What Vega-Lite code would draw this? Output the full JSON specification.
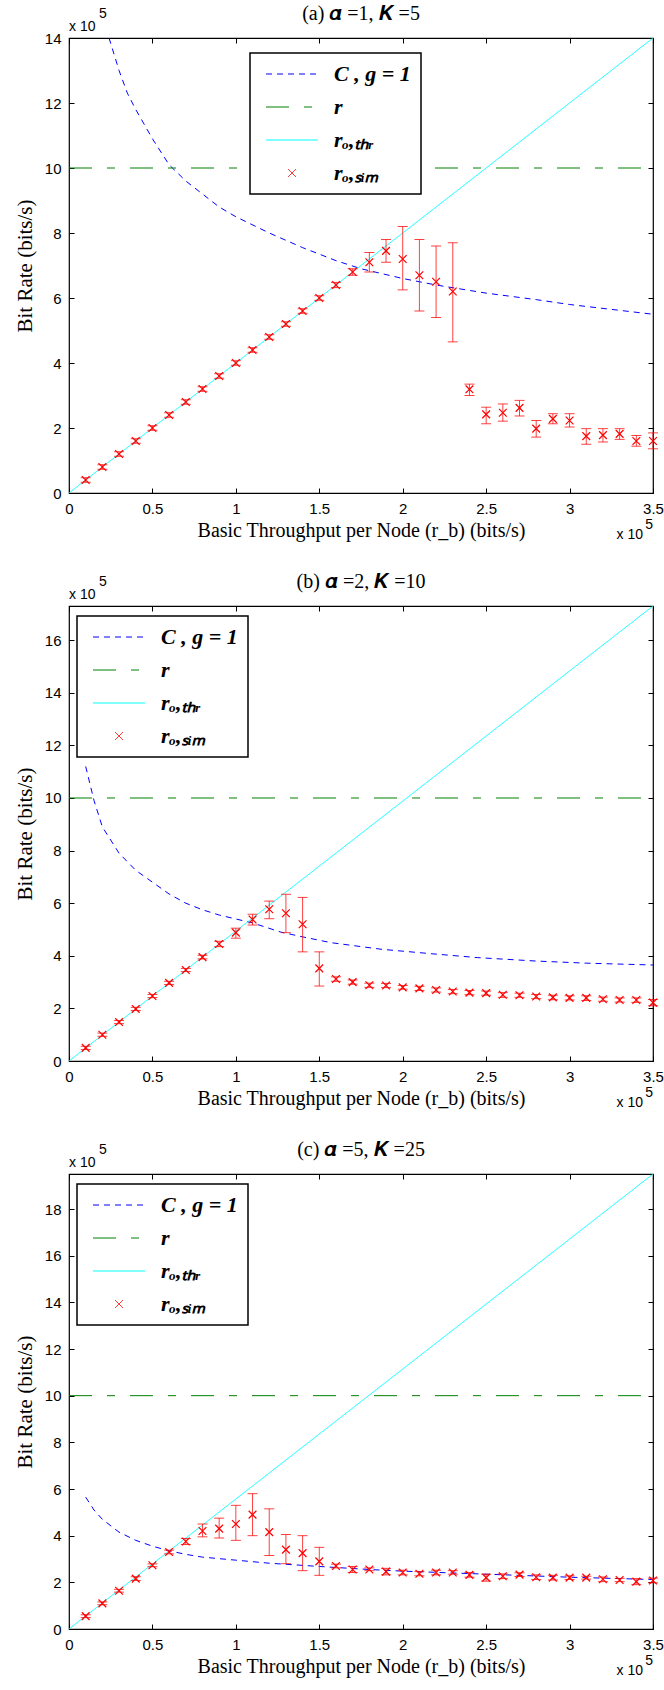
{
  "$schema": "https://vega.github.io/schema/vega-lite/v6.json",
  "background": "white",
  "padding": {"left": 13, "top": 3, "right": 0, "bottom": 0},
  "bounds": "flush",
  "spacing": 113,
  "resolve": {"scale": {"color": "independent", "strokeDash": "independent"}, "legend": {"color": "independent", "strokeDash": "independent"}},
  "config": {
    "font": "Liberation Sans",
    "view": {"stroke": "black", "strokeWidth": 1.2},
    "axis": {"grid": false, "domain": false, "tickColor": "black", "tickSize": -5, "labelFont": "Liberation Sans", "labelFontSize": 15, "labelColor": "black", "labelFlush": false, "labelOverlap": false, "labelBound": false, "titleFont": "Liberation Serif", "titleFontSize": 20, "titleFontWeight": "normal", "titleColor": "black"},
    "axisLeft": {"titleFontSize": 21},
    "title": {"font": "Liberation Serif", "fontSize": 20, "fontWeight": "normal", "color": "black", "frame": "group", "offset": -17},
    "legend": {"title": null, "orient": "none", "padding": 10, "strokeColor": "black", "fillColor": "white", "labelFont": "Liberation Serif", "labelFontSize": 22, "labelFontStyle": "italic", "labelFontWeight": "bold", "labelColor": "black", "symbolSize": 108, "symbolStrokeWidth": 1, "symbolOffset": 21, "labelOffset": 31, "rowPadding": 11}
  },
  "datasets": {
    "lines": [
      {"p": "a", "s": "C", "x": 0.24, "y": 14.0}, {"p": "a", "s": "C", "x": 0.3, "y": 13.0}, {"p": "a", "s": "C", "x": 0.35, "y": 12.3}, {"p": "a", "s": "C", "x": 0.4, "y": 11.8}, {"p": "a", "s": "C", "x": 0.5, "y": 10.9}, {"p": "a", "s": "C", "x": 0.6, "y": 10.1}, {"p": "a", "s": "C", "x": 0.7, "y": 9.6}, {"p": "a", "s": "C", "x": 0.8, "y": 9.2}, {"p": "a", "s": "C", "x": 0.9, "y": 8.8}, {"p": "a", "s": "C", "x": 1.0, "y": 8.5}, {"p": "a", "s": "C", "x": 1.2, "y": 8.0}, {"p": "a", "s": "C", "x": 1.4, "y": 7.55}, {"p": "a", "s": "C", "x": 1.6, "y": 7.15}, {"p": "a", "s": "C", "x": 1.75, "y": 6.9}, {"p": "a", "s": "C", "x": 2.0, "y": 6.6}, {"p": "a", "s": "C", "x": 2.2, "y": 6.4}, {"p": "a", "s": "C", "x": 2.5, "y": 6.15}, {"p": "a", "s": "C", "x": 2.8, "y": 5.95}, {"p": "a", "s": "C", "x": 3.0, "y": 5.8}, {"p": "a", "s": "C", "x": 3.25, "y": 5.65}, {"p": "a", "s": "C", "x": 3.5, "y": 5.5},
      {"p": "a", "s": "r", "x": 0, "y": 10}, {"p": "a", "s": "r", "x": 3.5, "y": 10},
      {"p": "a", "s": "thr", "x": 0, "y": 0}, {"p": "a", "s": "thr", "x": 1, "y": 4}, {"p": "a", "s": "thr", "x": 2, "y": 8}, {"p": "a", "s": "thr", "x": 3, "y": 12}, {"p": "a", "s": "thr", "x": 3.5, "y": 14},
      {"p": "b", "s": "C", "x": 0.1, "y": 11.2}, {"p": "b", "s": "C", "x": 0.15, "y": 9.9}, {"p": "b", "s": "C", "x": 0.2, "y": 8.9}, {"p": "b", "s": "C", "x": 0.3, "y": 7.9}, {"p": "b", "s": "C", "x": 0.4, "y": 7.25}, {"p": "b", "s": "C", "x": 0.5, "y": 6.8}, {"p": "b", "s": "C", "x": 0.6, "y": 6.35}, {"p": "b", "s": "C", "x": 0.7, "y": 6.0}, {"p": "b", "s": "C", "x": 0.8, "y": 5.75}, {"p": "b", "s": "C", "x": 0.9, "y": 5.55}, {"p": "b", "s": "C", "x": 1.0, "y": 5.4}, {"p": "b", "s": "C", "x": 1.1, "y": 5.25}, {"p": "b", "s": "C", "x": 1.27, "y": 4.9}, {"p": "b", "s": "C", "x": 1.4, "y": 4.72}, {"p": "b", "s": "C", "x": 1.57, "y": 4.5}, {"p": "b", "s": "C", "x": 1.87, "y": 4.25}, {"p": "b", "s": "C", "x": 2.17, "y": 4.08}, {"p": "b", "s": "C", "x": 2.45, "y": 3.93}, {"p": "b", "s": "C", "x": 2.8, "y": 3.8}, {"p": "b", "s": "C", "x": 3.1, "y": 3.72}, {"p": "b", "s": "C", "x": 3.5, "y": 3.65},
      {"p": "b", "s": "r", "x": 0, "y": 10}, {"p": "b", "s": "r", "x": 3.5, "y": 10},
      {"p": "b", "s": "thr", "x": 0, "y": 0}, {"p": "b", "s": "thr", "x": 1, "y": 4.94}, {"p": "b", "s": "thr", "x": 2, "y": 9.88}, {"p": "b", "s": "thr", "x": 3, "y": 14.83}, {"p": "b", "s": "thr", "x": 3.5, "y": 17.3},
      {"p": "c", "s": "C", "x": 0.1, "y": 5.65}, {"p": "c", "s": "C", "x": 0.15, "y": 5.1}, {"p": "c", "s": "C", "x": 0.2, "y": 4.7}, {"p": "c", "s": "C", "x": 0.3, "y": 4.15}, {"p": "c", "s": "C", "x": 0.4, "y": 3.8}, {"p": "c", "s": "C", "x": 0.5, "y": 3.55}, {"p": "c", "s": "C", "x": 0.6, "y": 3.35}, {"p": "c", "s": "C", "x": 0.7, "y": 3.2}, {"p": "c", "s": "C", "x": 0.8, "y": 3.08}, {"p": "c", "s": "C", "x": 1.0, "y": 2.95}, {"p": "c", "s": "C", "x": 1.2, "y": 2.82}, {"p": "c", "s": "C", "x": 1.5, "y": 2.68}, {"p": "c", "s": "C", "x": 1.8, "y": 2.55}, {"p": "c", "s": "C", "x": 2.0, "y": 2.48}, {"p": "c", "s": "C", "x": 2.5, "y": 2.35}, {"p": "c", "s": "C", "x": 3.0, "y": 2.22}, {"p": "c", "s": "C", "x": 3.5, "y": 2.12},
      {"p": "c", "s": "r", "x": 0, "y": 10}, {"p": "c", "s": "r", "x": 3.5, "y": 10},
      {"p": "c", "s": "thr", "x": 0, "y": 0}, {"p": "c", "s": "thr", "x": 1, "y": 5.57}, {"p": "c", "s": "thr", "x": 2, "y": 11.14}, {"p": "c", "s": "thr", "x": 3, "y": 16.71}, {"p": "c", "s": "thr", "x": 3.5, "y": 19.5}
    ],
    "sim": [
      {"p": "a", "x": 0.1, "y": 0.4, "lo": 0.33, "hi": 0.47}, {"p": "a", "x": 0.2, "y": 0.8, "lo": 0.73, "hi": 0.87}, {"p": "a", "x": 0.3, "y": 1.2, "lo": 1.13, "hi": 1.27}, {"p": "a", "x": 0.4, "y": 1.6, "lo": 1.53, "hi": 1.67}, {"p": "a", "x": 0.5, "y": 2.0, "lo": 1.93, "hi": 2.07}, {"p": "a", "x": 0.6, "y": 2.4, "lo": 2.33, "hi": 2.47}, {"p": "a", "x": 0.7, "y": 2.8, "lo": 2.73, "hi": 2.87}, {"p": "a", "x": 0.8, "y": 3.2, "lo": 3.13, "hi": 3.27}, {"p": "a", "x": 0.9, "y": 3.6, "lo": 3.53, "hi": 3.67}, {"p": "a", "x": 1.0, "y": 4.0, "lo": 3.93, "hi": 4.07}, {"p": "a", "x": 1.1, "y": 4.4, "lo": 4.33, "hi": 4.47}, {"p": "a", "x": 1.2, "y": 4.8, "lo": 4.73, "hi": 4.87}, {"p": "a", "x": 1.3, "y": 5.2, "lo": 5.13, "hi": 5.27}, {"p": "a", "x": 1.4, "y": 5.6, "lo": 5.53, "hi": 5.67}, {"p": "a", "x": 1.5, "y": 6.0, "lo": 5.93, "hi": 6.07}, {"p": "a", "x": 1.6, "y": 6.4, "lo": 6.32, "hi": 6.48}, {"p": "a", "x": 1.7, "y": 6.8, "lo": 6.7, "hi": 6.9}, {"p": "a", "x": 1.8, "y": 7.1, "lo": 6.8, "hi": 7.4}, {"p": "a", "x": 1.9, "y": 7.45, "lo": 7.1, "hi": 7.8}, {"p": "a", "x": 2.0, "y": 7.2, "lo": 6.25, "hi": 8.2}, {"p": "a", "x": 2.1, "y": 6.7, "lo": 5.6, "hi": 7.8}, {"p": "a", "x": 2.2, "y": 6.5, "lo": 5.4, "hi": 7.6}, {"p": "a", "x": 2.3, "y": 6.2, "lo": 4.65, "hi": 7.7}, {"p": "a", "x": 2.4, "y": 3.19, "lo": 3.0, "hi": 3.35}, {"p": "a", "x": 2.5, "y": 2.42, "lo": 2.13, "hi": 2.64}, {"p": "a", "x": 2.6, "y": 2.47, "lo": 2.21, "hi": 2.74}, {"p": "a", "x": 2.7, "y": 2.62, "lo": 2.37, "hi": 2.85}, {"p": "a", "x": 2.8, "y": 1.98, "lo": 1.72, "hi": 2.23}, {"p": "a", "x": 2.9, "y": 2.28, "lo": 2.13, "hi": 2.44}, {"p": "a", "x": 3.0, "y": 2.23, "lo": 2.03, "hi": 2.44}, {"p": "a", "x": 3.1, "y": 1.75, "lo": 1.5, "hi": 1.98}, {"p": "a", "x": 3.2, "y": 1.78, "lo": 1.57, "hi": 1.98}, {"p": "a", "x": 3.3, "y": 1.82, "lo": 1.65, "hi": 1.98}, {"p": "a", "x": 3.4, "y": 1.6, "lo": 1.44, "hi": 1.77}, {"p": "a", "x": 3.5, "y": 1.6, "lo": 1.36, "hi": 1.85},
      {"p": "b", "x": 0.1, "y": 0.5, "lo": 0.44, "hi": 0.56}, {"p": "b", "x": 0.2, "y": 1.0, "lo": 0.94, "hi": 1.06}, {"p": "b", "x": 0.3, "y": 1.48, "lo": 1.42, "hi": 1.54}, {"p": "b", "x": 0.4, "y": 1.98, "lo": 1.92, "hi": 2.04}, {"p": "b", "x": 0.5, "y": 2.47, "lo": 2.41, "hi": 2.53}, {"p": "b", "x": 0.6, "y": 2.97, "lo": 2.91, "hi": 3.03}, {"p": "b", "x": 0.7, "y": 3.46, "lo": 3.4, "hi": 3.52}, {"p": "b", "x": 0.8, "y": 3.95, "lo": 3.88, "hi": 4.02}, {"p": "b", "x": 0.9, "y": 4.45, "lo": 4.35, "hi": 4.55}, {"p": "b", "x": 1.0, "y": 4.88, "lo": 4.67, "hi": 5.05}, {"p": "b", "x": 1.1, "y": 5.38, "lo": 5.17, "hi": 5.58}, {"p": "b", "x": 1.2, "y": 5.77, "lo": 5.41, "hi": 6.08}, {"p": "b", "x": 1.3, "y": 5.62, "lo": 4.88, "hi": 6.34}, {"p": "b", "x": 1.4, "y": 5.2, "lo": 4.15, "hi": 6.22}, {"p": "b", "x": 1.5, "y": 3.52, "lo": 2.85, "hi": 4.15}, {"p": "b", "x": 1.6, "y": 3.12, "lo": 3.03, "hi": 3.2}, {"p": "b", "x": 1.7, "y": 3.0, "lo": 2.92, "hi": 3.08}, {"p": "b", "x": 1.8, "y": 2.88, "lo": 2.8, "hi": 2.96}, {"p": "b", "x": 1.9, "y": 2.87, "lo": 2.79, "hi": 2.95}, {"p": "b", "x": 2.0, "y": 2.8, "lo": 2.73, "hi": 2.87}, {"p": "b", "x": 2.1, "y": 2.76, "lo": 2.68, "hi": 2.84}, {"p": "b", "x": 2.2, "y": 2.7, "lo": 2.62, "hi": 2.78}, {"p": "b", "x": 2.3, "y": 2.64, "lo": 2.56, "hi": 2.72}, {"p": "b", "x": 2.4, "y": 2.6, "lo": 2.52, "hi": 2.68}, {"p": "b", "x": 2.5, "y": 2.58, "lo": 2.5, "hi": 2.66}, {"p": "b", "x": 2.6, "y": 2.52, "lo": 2.42, "hi": 2.6}, {"p": "b", "x": 2.7, "y": 2.5, "lo": 2.42, "hi": 2.58}, {"p": "b", "x": 2.8, "y": 2.45, "lo": 2.37, "hi": 2.53}, {"p": "b", "x": 2.9, "y": 2.42, "lo": 2.33, "hi": 2.5}, {"p": "b", "x": 3.0, "y": 2.4, "lo": 2.32, "hi": 2.48}, {"p": "b", "x": 3.1, "y": 2.4, "lo": 2.3, "hi": 2.48}, {"p": "b", "x": 3.2, "y": 2.35, "lo": 2.27, "hi": 2.43}, {"p": "b", "x": 3.3, "y": 2.32, "lo": 2.24, "hi": 2.4}, {"p": "b", "x": 3.4, "y": 2.32, "lo": 2.23, "hi": 2.4}, {"p": "b", "x": 3.5, "y": 2.22, "lo": 2.1, "hi": 2.34},
      {"p": "c", "x": 0.1, "y": 0.55, "lo": 0.49, "hi": 0.61}, {"p": "c", "x": 0.2, "y": 1.1, "lo": 1.04, "hi": 1.16}, {"p": "c", "x": 0.3, "y": 1.64, "lo": 1.58, "hi": 1.7}, {"p": "c", "x": 0.4, "y": 2.16, "lo": 2.08, "hi": 2.24}, {"p": "c", "x": 0.5, "y": 2.73, "lo": 2.67, "hi": 2.79}, {"p": "c", "x": 0.6, "y": 3.3, "lo": 3.22, "hi": 3.38}, {"p": "c", "x": 0.7, "y": 3.75, "lo": 3.62, "hi": 3.88}, {"p": "c", "x": 0.8, "y": 4.2, "lo": 3.95, "hi": 4.5}, {"p": "c", "x": 0.9, "y": 4.3, "lo": 3.9, "hi": 4.75}, {"p": "c", "x": 1.0, "y": 4.5, "lo": 3.8, "hi": 5.3}, {"p": "c", "x": 1.1, "y": 4.9, "lo": 4.0, "hi": 5.8}, {"p": "c", "x": 1.2, "y": 4.15, "lo": 3.15, "hi": 5.15}, {"p": "c", "x": 1.3, "y": 3.4, "lo": 2.8, "hi": 4.05}, {"p": "c", "x": 1.4, "y": 3.25, "lo": 2.5, "hi": 4.0}, {"p": "c", "x": 1.5, "y": 2.9, "lo": 2.3, "hi": 3.5}, {"p": "c", "x": 1.6, "y": 2.7, "lo": 2.62, "hi": 2.78}, {"p": "c", "x": 1.7, "y": 2.55, "lo": 2.42, "hi": 2.68}, {"p": "c", "x": 1.8, "y": 2.55, "lo": 2.5, "hi": 2.62}, {"p": "c", "x": 1.9, "y": 2.46, "lo": 2.32, "hi": 2.6}, {"p": "c", "x": 2.0, "y": 2.42, "lo": 2.32, "hi": 2.52}, {"p": "c", "x": 2.1, "y": 2.37, "lo": 2.28, "hi": 2.46}, {"p": "c", "x": 2.2, "y": 2.42, "lo": 2.32, "hi": 2.52}, {"p": "c", "x": 2.3, "y": 2.42, "lo": 2.35, "hi": 2.5}, {"p": "c", "x": 2.4, "y": 2.32, "lo": 2.22, "hi": 2.42}, {"p": "c", "x": 2.5, "y": 2.2, "lo": 2.05, "hi": 2.35}, {"p": "c", "x": 2.6, "y": 2.26, "lo": 2.16, "hi": 2.36}, {"p": "c", "x": 2.7, "y": 2.33, "lo": 2.25, "hi": 2.41}, {"p": "c", "x": 2.8, "y": 2.22, "lo": 2.12, "hi": 2.32}, {"p": "c", "x": 2.9, "y": 2.2, "lo": 2.1, "hi": 2.3}, {"p": "c", "x": 3.0, "y": 2.2, "lo": 2.12, "hi": 2.28}, {"p": "c", "x": 3.1, "y": 2.2, "lo": 2.14, "hi": 2.26}, {"p": "c", "x": 3.2, "y": 2.13, "lo": 2.03, "hi": 2.23}, {"p": "c", "x": 3.3, "y": 2.1, "lo": 2.03, "hi": 2.17}, {"p": "c", "x": 3.4, "y": 2.03, "lo": 1.9, "hi": 2.16}, {"p": "c", "x": 3.5, "y": 2.08, "lo": 1.98, "hi": 2.18}
    ]
  },
  "vconcat": [
    {
      "width": 584, "height": 455,
      "title": {"text": "(a) 𝜶 =1, 𝑲 =5"},
      "resolve": {"axis": {"x": "independent", "y": "independent"}},
      "layer": [
        {
          "data": {"name": "lines"},
          "transform": [{"filter": "datum.p === 'a'"}],
          "mark": {"type": "line", "strokeWidth": 1, "clip": true},
          "encoding": {
            "x": {"field": "x", "type": "quantitative", "scale": {"domain": [0, 3.5], "nice": false, "zero": false}, "axis": {"orient": "bottom", "values": [0, 0.5, 1, 1.5, 2, 2.5, 3, 3.5], "format": "~g", "labelPadding": 13, "titlePadding": 4, "title": "Basic Throughput per Node (r_b) (bits/s)"}},
            "y": {"field": "y", "type": "quantitative", "scale": {"domain": [0, 14], "nice": false}, "axis": {"orient": "left", "values": [0, 2, 4, 6, 8, 10, 12, 14], "format": "d", "labelPadding": 13, "titlePadding": 9, "title": "Bit Rate (bits/s)"}},
            "color": {"field": "s", "type": "nominal", "scale": {"domain": ["C", "r", "thr", "sim"], "range": ["#0000ff", "#008000", "#00ffff", "#ff0000"]},
              "legend": {"legendX": 181, "legendY": 15,
                "labelExpr": "datum.value === 'C' ? 'C , g = 1' : datum.value === 'thr' ? 'rₒ,ₜₕᵣ' : datum.value === 'sim' ? 'rₒ,ₛᵢₘ' : 'r'",
                "encode": {
                  "legend": {"update": {"strokeWidth": {"value": 1.5}}},
                  "symbols": {"update": {
                    "shape": {"signal": "datum.value === 'sim' ? 'M-0.75,-0.75L0.75,0.75M-0.75,0.75L0.75,-0.75' : 'M-5,0H5'"},
                    "size": {"value": 108},
                    "strokeDash": {"signal": "datum.value === 'C' ? [6, 5] : datum.value === 'r' ? [23, 15, 8, 15] : [1, 0]"},
                    "fill": {"value": "transparent"},
                    "strokeWidth": {"value": 1}
                  }}
                }}},
            "strokeDash": {"field": "s", "type": "nominal", "scale": {"domain": ["C", "r", "thr"], "range": [[6, 5], [23, 15, 8, 15], [1, 0]]}, "legend": null}
          }
        },
        {
          "data": {"name": "sim"},
          "transform": [{"filter": "datum.p === 'a'"}],
          "mark": {"type": "rule", "color": "#ff0000", "strokeWidth": 1, "opacity": 0.75},
          "encoding": {
            "x": {"field": "x", "type": "quantitative", "axis": {"orient": "top", "values": [0, 0.5, 1, 1.5, 2, 2.5, 3, 3.5], "labels": false, "title": null}},
            "y": {"field": "lo", "type": "quantitative", "axis": {"orient": "right", "values": [0, 2, 4, 6, 8, 10, 12, 14], "labels": false, "title": null}},
            "y2": {"field": "hi"}
          }
        },
        {
          "data": {"name": "sim"},
          "transform": [{"filter": "datum.p === 'a'"}],
          "mark": {"type": "tick", "orient": "horizontal", "size": 10, "thickness": 1, "color": "#ff0000", "opacity": 0.75},
          "encoding": {"x": {"field": "x", "type": "quantitative", "axis": null}, "y": {"field": "lo", "type": "quantitative", "axis": null}}
        },
        {
          "data": {"name": "sim"},
          "transform": [{"filter": "datum.p === 'a'"}],
          "mark": {"type": "tick", "orient": "horizontal", "size": 10, "thickness": 1, "color": "#ff0000", "opacity": 0.75},
          "encoding": {"x": {"field": "x", "type": "quantitative", "axis": null}, "y": {"field": "hi", "type": "quantitative", "axis": null}}
        },
        {
          "data": {"name": "sim"},
          "transform": [{"filter": "datum.p === 'a'"}],
          "mark": {"type": "point", "shape": "M-1,-1L1,1M-1,1L1,-1", "filled": false, "size": 60, "strokeWidth": 1.2, "opacity": 1},
          "encoding": {"x": {"field": "x", "type": "quantitative", "axis": null}, "y": {"field": "y", "type": "quantitative", "axis": null}, "color": {"datum": "sim", "type": "nominal"}}
        },
        {
          "data": {"values": [{"t": "x 10"}]},
          "mark": {"type": "text", "align": "left", "baseline": "alphabetic", "dy": -7, "fontSize": 14, "font": "Liberation Sans", "color": "black"},
          "encoding": {"x": {"datum": 0, "type": "quantitative", "axis": null}, "y": {"datum": 14, "type": "quantitative", "axis": null}, "text": {"field": "t"}}
        },
        {
          "data": {"values": [{"t": "5"}]},
          "mark": {"type": "text", "align": "left", "baseline": "alphabetic", "dx": 30, "dy": -20, "fontSize": 14, "font": "Liberation Sans", "color": "black"},
          "encoding": {"x": {"datum": 0, "type": "quantitative", "axis": null}, "y": {"datum": 14, "type": "quantitative", "axis": null}, "text": {"field": "t"}}
        },
        {
          "data": {"values": [{"t": "x 10"}]},
          "mark": {"type": "text", "align": "right", "baseline": "alphabetic", "dx": -10, "dy": 46, "fontSize": 14, "font": "Liberation Sans", "color": "black"},
          "encoding": {"x": {"datum": 3.5, "type": "quantitative", "axis": null}, "y": {"datum": 0, "type": "quantitative", "axis": null}, "text": {"field": "t"}}
        },
        {
          "data": {"values": [{"t": "5"}]},
          "mark": {"type": "text", "align": "right", "baseline": "alphabetic", "dx": 0, "dy": 36, "fontSize": 14, "font": "Liberation Sans", "color": "black"},
          "encoding": {"x": {"datum": 3.5, "type": "quantitative", "axis": null}, "y": {"datum": 0, "type": "quantitative", "axis": null}, "text": {"field": "t"}}
        }
      ]
    },
    {
      "width": 584, "height": 455,
      "title": {"text": "(b) 𝜶 =2, 𝑲 =10"},
      "resolve": {"axis": {"x": "independent", "y": "independent"}},
      "layer": [
        {
          "data": {"name": "lines"},
          "transform": [{"filter": "datum.p === 'b'"}],
          "mark": {"type": "line", "strokeWidth": 1, "clip": true},
          "encoding": {
            "x": {"field": "x", "type": "quantitative", "scale": {"domain": [0, 3.5], "nice": false, "zero": false}, "axis": {"orient": "bottom", "values": [0, 0.5, 1, 1.5, 2, 2.5, 3, 3.5], "format": "~g", "labelPadding": 13, "titlePadding": 4, "title": "Basic Throughput per Node (r_b) (bits/s)"}},
            "y": {"field": "y", "type": "quantitative", "scale": {"domain": [0, 17.3], "nice": false}, "axis": {"orient": "left", "values": [0, 2, 4, 6, 8, 10, 12, 14, 16], "format": "d", "labelPadding": 13, "titlePadding": 9, "title": "Bit Rate (bits/s)"}},
            "color": {"field": "s", "type": "nominal", "scale": {"domain": ["C", "r", "thr", "sim"], "range": ["#0000ff", "#008000", "#00ffff", "#ff0000"]},
              "legend": {"legendX": 8, "legendY": 10,
                "labelExpr": "datum.value === 'C' ? 'C , g = 1' : datum.value === 'thr' ? 'rₒ,ₜₕᵣ' : datum.value === 'sim' ? 'rₒ,ₛᵢₘ' : 'r'",
                "encode": {
                  "legend": {"update": {"strokeWidth": {"value": 1.5}}},
                  "symbols": {"update": {
                    "shape": {"signal": "datum.value === 'sim' ? 'M-0.75,-0.75L0.75,0.75M-0.75,0.75L0.75,-0.75' : 'M-5,0H5'"},
                    "size": {"value": 108},
                    "strokeDash": {"signal": "datum.value === 'C' ? [6, 5] : datum.value === 'r' ? [23, 15, 8, 15] : [1, 0]"},
                    "fill": {"value": "transparent"},
                    "strokeWidth": {"value": 1}
                  }}
                }}},
            "strokeDash": {"field": "s", "type": "nominal", "scale": {"domain": ["C", "r", "thr"], "range": [[6, 5], [23, 15, 8, 15], [1, 0]]}, "legend": null}
          }
        },
        {
          "data": {"name": "sim"},
          "transform": [{"filter": "datum.p === 'b'"}],
          "mark": {"type": "rule", "color": "#ff0000", "strokeWidth": 1, "opacity": 0.75},
          "encoding": {
            "x": {"field": "x", "type": "quantitative", "axis": {"orient": "top", "values": [0, 0.5, 1, 1.5, 2, 2.5, 3, 3.5], "labels": false, "title": null}},
            "y": {"field": "lo", "type": "quantitative", "axis": {"orient": "right", "values": [0, 2, 4, 6, 8, 10, 12, 14, 16], "labels": false, "title": null}},
            "y2": {"field": "hi"}
          }
        },
        {
          "data": {"name": "sim"},
          "transform": [{"filter": "datum.p === 'b'"}],
          "mark": {"type": "tick", "orient": "horizontal", "size": 10, "thickness": 1, "color": "#ff0000", "opacity": 0.75},
          "encoding": {"x": {"field": "x", "type": "quantitative", "axis": null}, "y": {"field": "lo", "type": "quantitative", "axis": null}}
        },
        {
          "data": {"name": "sim"},
          "transform": [{"filter": "datum.p === 'b'"}],
          "mark": {"type": "tick", "orient": "horizontal", "size": 10, "thickness": 1, "color": "#ff0000", "opacity": 0.75},
          "encoding": {"x": {"field": "x", "type": "quantitative", "axis": null}, "y": {"field": "hi", "type": "quantitative", "axis": null}}
        },
        {
          "data": {"name": "sim"},
          "transform": [{"filter": "datum.p === 'b'"}],
          "mark": {"type": "point", "shape": "M-1,-1L1,1M-1,1L1,-1", "filled": false, "size": 60, "strokeWidth": 1.2, "opacity": 1},
          "encoding": {"x": {"field": "x", "type": "quantitative", "axis": null}, "y": {"field": "y", "type": "quantitative", "axis": null}, "color": {"datum": "sim", "type": "nominal"}}
        },
        {
          "data": {"values": [{"t": "x 10"}]},
          "mark": {"type": "text", "align": "left", "baseline": "alphabetic", "dy": -7, "fontSize": 14, "font": "Liberation Sans", "color": "black"},
          "encoding": {"x": {"datum": 0, "type": "quantitative", "axis": null}, "y": {"datum": 17.3, "type": "quantitative", "axis": null}, "text": {"field": "t"}}
        },
        {
          "data": {"values": [{"t": "5"}]},
          "mark": {"type": "text", "align": "left", "baseline": "alphabetic", "dx": 30, "dy": -20, "fontSize": 14, "font": "Liberation Sans", "color": "black"},
          "encoding": {"x": {"datum": 0, "type": "quantitative", "axis": null}, "y": {"datum": 17.3, "type": "quantitative", "axis": null}, "text": {"field": "t"}}
        },
        {
          "data": {"values": [{"t": "x 10"}]},
          "mark": {"type": "text", "align": "right", "baseline": "alphabetic", "dx": -10, "dy": 46, "fontSize": 14, "font": "Liberation Sans", "color": "black"},
          "encoding": {"x": {"datum": 3.5, "type": "quantitative", "axis": null}, "y": {"datum": 0, "type": "quantitative", "axis": null}, "text": {"field": "t"}}
        },
        {
          "data": {"values": [{"t": "5"}]},
          "mark": {"type": "text", "align": "right", "baseline": "alphabetic", "dx": 0, "dy": 36, "fontSize": 14, "font": "Liberation Sans", "color": "black"},
          "encoding": {"x": {"datum": 3.5, "type": "quantitative", "axis": null}, "y": {"datum": 0, "type": "quantitative", "axis": null}, "text": {"field": "t"}}
        }
      ]
    },
    {
      "width": 584, "height": 455,
      "title": {"text": "(c) 𝜶 =5, 𝑲 =25"},
      "resolve": {"axis": {"x": "independent", "y": "independent"}},
      "layer": [
        {
          "data": {"name": "lines"},
          "transform": [{"filter": "datum.p === 'c'"}],
          "mark": {"type": "line", "strokeWidth": 1, "clip": true},
          "encoding": {
            "x": {"field": "x", "type": "quantitative", "scale": {"domain": [0, 3.5], "nice": false, "zero": false}, "axis": {"orient": "bottom", "values": [0, 0.5, 1, 1.5, 2, 2.5, 3, 3.5], "format": "~g", "labelPadding": 13, "titlePadding": 4, "title": "Basic Throughput per Node (r_b) (bits/s)"}},
            "y": {"field": "y", "type": "quantitative", "scale": {"domain": [0, 19.5], "nice": false}, "axis": {"orient": "left", "values": [0, 2, 4, 6, 8, 10, 12, 14, 16, 18], "format": "d", "labelPadding": 13, "titlePadding": 9, "title": "Bit Rate (bits/s)"}},
            "color": {"field": "s", "type": "nominal", "scale": {"domain": ["C", "r", "thr", "sim"], "range": ["#0000ff", "#008000", "#00ffff", "#ff0000"]},
              "legend": {"legendX": 8, "legendY": 10,
                "labelExpr": "datum.value === 'C' ? 'C , g = 1' : datum.value === 'thr' ? 'rₒ,ₜₕᵣ' : datum.value === 'sim' ? 'rₒ,ₛᵢₘ' : 'r'",
                "encode": {
                  "legend": {"update": {"strokeWidth": {"value": 1.5}}},
                  "symbols": {"update": {
                    "shape": {"signal": "datum.value === 'sim' ? 'M-0.75,-0.75L0.75,0.75M-0.75,0.75L0.75,-0.75' : 'M-5,0H5'"},
                    "size": {"value": 108},
                    "strokeDash": {"signal": "datum.value === 'C' ? [6, 5] : datum.value === 'r' ? [23, 15, 8, 15] : [1, 0]"},
                    "fill": {"value": "transparent"},
                    "strokeWidth": {"value": 1}
                  }}
                }}},
            "strokeDash": {"field": "s", "type": "nominal", "scale": {"domain": ["C", "r", "thr"], "range": [[6, 5], [23, 15, 8, 15], [1, 0]]}, "legend": null}
          }
        },
        {
          "data": {"name": "sim"},
          "transform": [{"filter": "datum.p === 'c'"}],
          "mark": {"type": "rule", "color": "#ff0000", "strokeWidth": 1, "opacity": 0.75},
          "encoding": {
            "x": {"field": "x", "type": "quantitative", "axis": {"orient": "top", "values": [0, 0.5, 1, 1.5, 2, 2.5, 3, 3.5], "labels": false, "title": null}},
            "y": {"field": "lo", "type": "quantitative", "axis": {"orient": "right", "values": [0, 2, 4, 6, 8, 10, 12, 14, 16, 18], "labels": false, "title": null}},
            "y2": {"field": "hi"}
          }
        },
        {
          "data": {"name": "sim"},
          "transform": [{"filter": "datum.p === 'c'"}],
          "mark": {"type": "tick", "orient": "horizontal", "size": 10, "thickness": 1, "color": "#ff0000", "opacity": 0.75},
          "encoding": {"x": {"field": "x", "type": "quantitative", "axis": null}, "y": {"field": "lo", "type": "quantitative", "axis": null}}
        },
        {
          "data": {"name": "sim"},
          "transform": [{"filter": "datum.p === 'c'"}],
          "mark": {"type": "tick", "orient": "horizontal", "size": 10, "thickness": 1, "color": "#ff0000", "opacity": 0.75},
          "encoding": {"x": {"field": "x", "type": "quantitative", "axis": null}, "y": {"field": "hi", "type": "quantitative", "axis": null}}
        },
        {
          "data": {"name": "sim"},
          "transform": [{"filter": "datum.p === 'c'"}],
          "mark": {"type": "point", "shape": "M-1,-1L1,1M-1,1L1,-1", "filled": false, "size": 60, "strokeWidth": 1.2, "opacity": 1},
          "encoding": {"x": {"field": "x", "type": "quantitative", "axis": null}, "y": {"field": "y", "type": "quantitative", "axis": null}, "color": {"datum": "sim", "type": "nominal"}}
        },
        {
          "data": {"values": [{"t": "x 10"}]},
          "mark": {"type": "text", "align": "left", "baseline": "alphabetic", "dy": -7, "fontSize": 14, "font": "Liberation Sans", "color": "black"},
          "encoding": {"x": {"datum": 0, "type": "quantitative", "axis": null}, "y": {"datum": 19.5, "type": "quantitative", "axis": null}, "text": {"field": "t"}}
        },
        {
          "data": {"values": [{"t": "5"}]},
          "mark": {"type": "text", "align": "left", "baseline": "alphabetic", "dx": 30, "dy": -20, "fontSize": 14, "font": "Liberation Sans", "color": "black"},
          "encoding": {"x": {"datum": 0, "type": "quantitative", "axis": null}, "y": {"datum": 19.5, "type": "quantitative", "axis": null}, "text": {"field": "t"}}
        },
        {
          "data": {"values": [{"t": "x 10"}]},
          "mark": {"type": "text", "align": "right", "baseline": "alphabetic", "dx": -10, "dy": 46, "fontSize": 14, "font": "Liberation Sans", "color": "black"},
          "encoding": {"x": {"datum": 3.5, "type": "quantitative", "axis": null}, "y": {"datum": 0, "type": "quantitative", "axis": null}, "text": {"field": "t"}}
        },
        {
          "data": {"values": [{"t": "5"}]},
          "mark": {"type": "text", "align": "right", "baseline": "alphabetic", "dx": 0, "dy": 36, "fontSize": 14, "font": "Liberation Sans", "color": "black"},
          "encoding": {"x": {"datum": 3.5, "type": "quantitative", "axis": null}, "y": {"datum": 0, "type": "quantitative", "axis": null}, "text": {"field": "t"}}
        }
      ]
    }
  ]
}
